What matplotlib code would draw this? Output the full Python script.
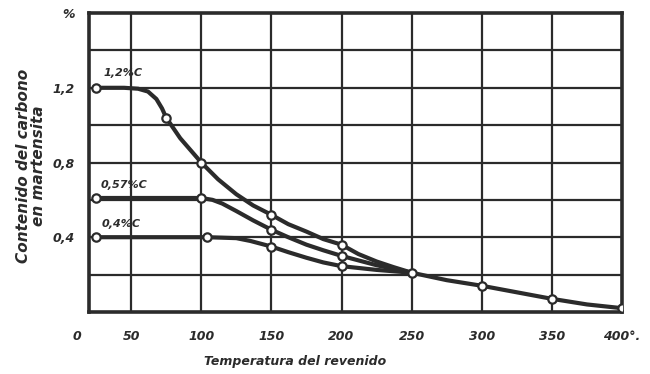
import matplotlib.pyplot as plt

# curves (temperature in C, carbon in %)
t_12 = [25, 45, 55, 62, 68, 72, 75, 85, 100, 112, 125, 137, 150, 162, 175, 187, 200,
        212, 225, 237, 250, 275, 300, 325, 350, 375, 400]
c_12 = [1.20, 1.20, 1.195, 1.18, 1.14, 1.09, 1.04, 0.93, 0.80, 0.71, 0.63, 0.57, 0.52, 0.47,
        0.43, 0.39, 0.36, 0.31, 0.27, 0.24, 0.21, 0.17, 0.14, 0.105, 0.07, 0.04, 0.02]
t_12_pts = [25, 75, 100, 150, 200, 250, 300, 350, 400]
c_12_pts = [1.20, 1.04, 0.80, 0.52, 0.36, 0.21, 0.14, 0.07, 0.02]

t_57 = [25, 60, 100, 108, 115, 125, 137, 150, 162, 175, 187, 200, 225, 250]
c_57 = [0.61, 0.61, 0.61, 0.60, 0.58, 0.54, 0.49, 0.44, 0.40, 0.36, 0.33, 0.30, 0.25, 0.21]
t_57_pts = [25, 100, 150, 200]
c_57_pts = [0.61, 0.61, 0.44, 0.30]

t_40 = [25, 60, 104, 125, 135, 150, 162, 175, 187, 200, 225, 250]
c_40 = [0.40, 0.40, 0.40, 0.395, 0.38, 0.35, 0.32, 0.29, 0.265, 0.245, 0.225, 0.21]
t_40_pts = [25, 104, 150, 200]
c_40_pts = [0.40, 0.40, 0.35, 0.245]

curve_labels = ["1,2%C", "0,57%C", "0,4%C"]
x_ticks = [50, 100, 150, 200, 250, 300, 350, 400]
x_ticklabels = ["50", "100", "150", "200", "250", "300", "350", "400°."]
y_ticks = [0.4, 0.8, 1.2, 1.6]
y_ticklabels = ["0,4", "0,8", "1,2", "%"]

ink = "#2b2b2b"
txt = dict(color=ink, fontweight="bold", fontstyle="italic")

fig = plt.figure(figsize=(6.5, 3.74), dpi=100)
ax = fig.add_axes([0.137, 0.166, 0.820, 0.799])

ax.set_xlim(20, 400)
ax.set_ylim(0, 1.6)

# grid
for x in [50, 100, 150, 200, 250, 300, 350]:
    ax.axvline(x, color=ink, lw=1.6, zorder=1)
for y in [0.2, 0.4, 0.6, 0.8, 1.0, 1.2, 1.4]:
    ax.axhline(y, color=ink, lw=1.6, zorder=1)

for t, c, tp, cp in [(t_12, c_12, t_12_pts, c_12_pts),
                     (t_57, c_57, t_57_pts, c_57_pts),
                     (t_40, c_40, t_40_pts, c_40_pts)]:
    ax.plot(t, c, color=ink, lw=3.0, solid_capstyle="round", zorder=3)
    ax.plot(tp, cp, "o", ms=6, mfc="white", mec=ink, mew=1.6, zorder=4)

ax.text(30, 1.265, curve_labels[0], fontsize=8, **txt)
ax.text(28, 0.665, curve_labels[1], fontsize=8, **txt)
ax.text(29, 0.455, curve_labels[2], fontsize=8, **txt)

for s in ax.spines.values():
    s.set_color(ink)
    s.set_linewidth(2.6)

ax.set_xticks(x_ticks)
ax.set_xticklabels(x_ticklabels, fontsize=9, **txt)
ax.set_yticks(y_ticks)
ax.set_yticklabels(y_ticklabels, fontsize=9, **txt)
ax.tick_params(axis="x", length=0, pad=13)
ax.tick_params(axis="y", length=0, pad=10)
ax.text(-0.022, -0.06, "0", transform=ax.transAxes, ha="center", va="top", fontsize=9, **txt)

ax.set_xlabel("Temperatura del revenido", fontsize=9, **txt)
ax.xaxis.set_label_coords(0.386, -0.145)
ax.set_ylabel("Contenido del carbono\nen martensita", fontsize=11, linespacing=1.05, **txt)
ax.yaxis.set_label_coords(-0.08, 0.49)

fig.savefig("out.png", dpi=100)
